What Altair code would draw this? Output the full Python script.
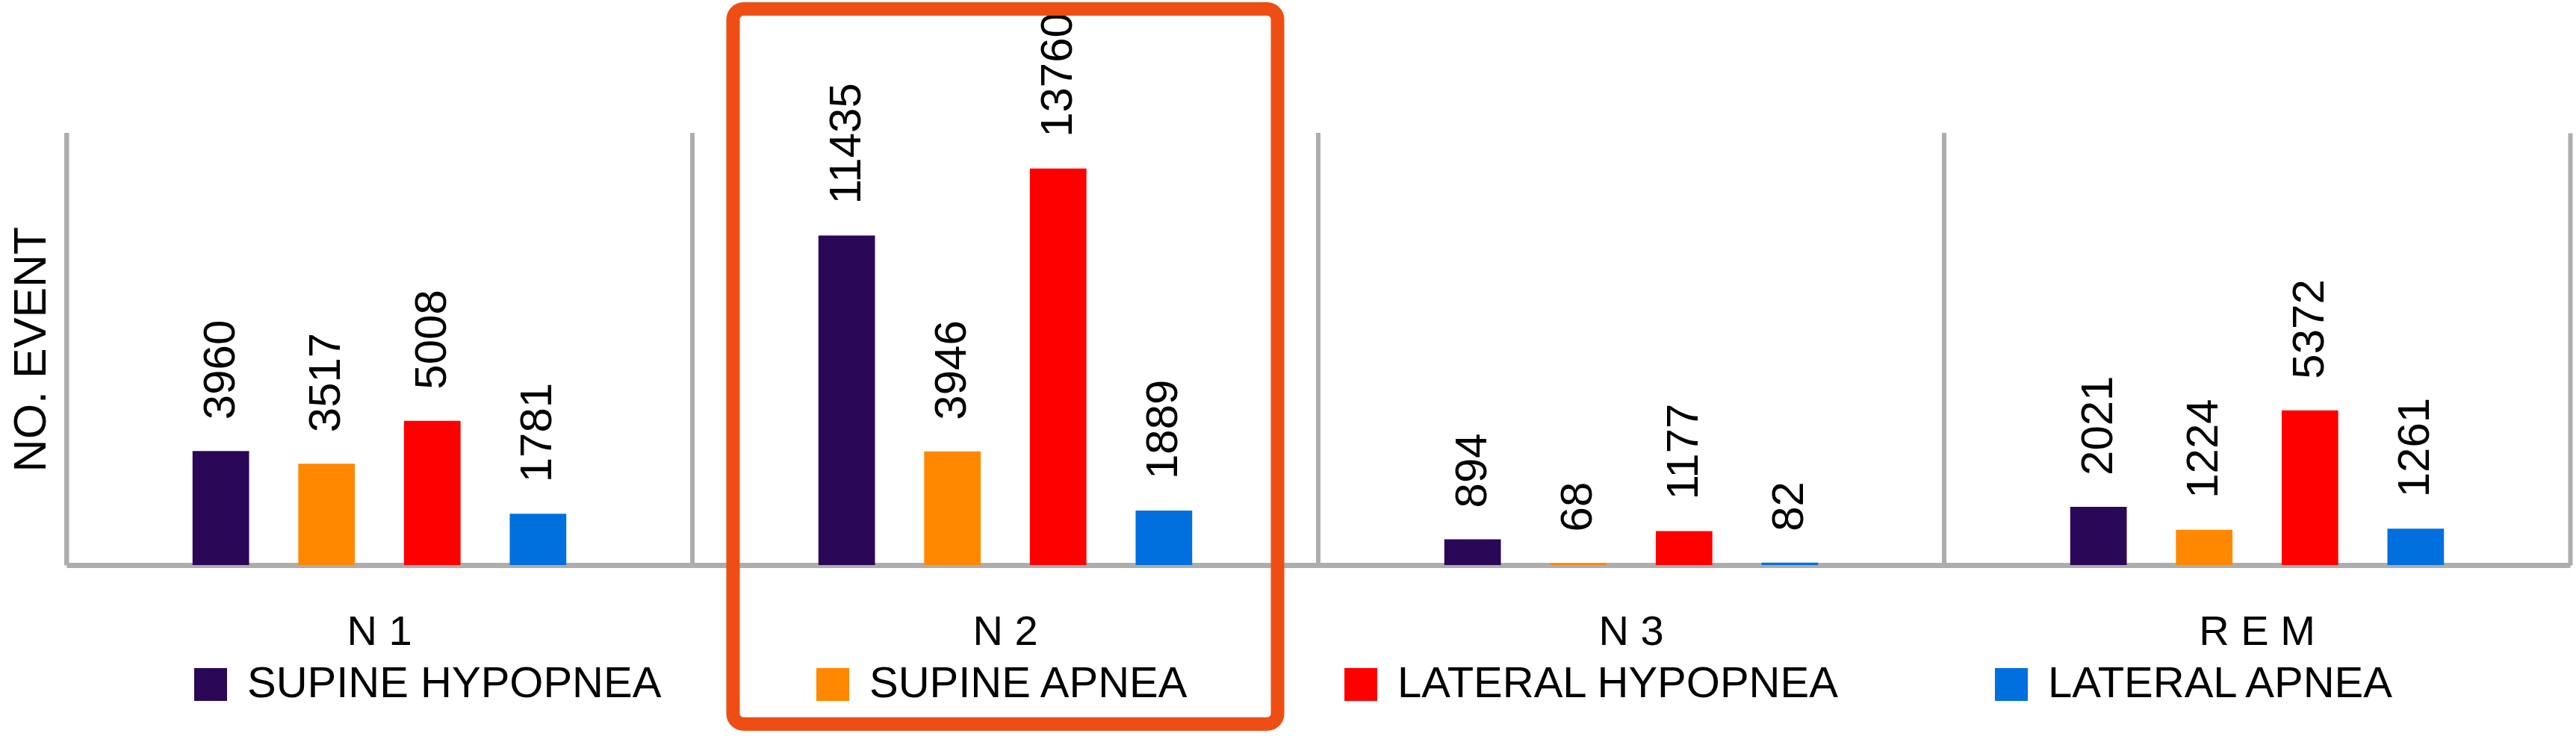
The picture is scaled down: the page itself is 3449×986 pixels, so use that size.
import altair as alt
import pandas as pd

# ---- data ----
stages = ["N 1", "N 2", "N 3", "R E M"]
series = ["SUPINE HYPOPNEA", "SUPINE APNEA", "LATERAL HYPOPNEA", "LATERAL APNEA"]
supine_hypopnea = [3960, 11435, 894, 2021]
supine_apnea = [3517, 3946, 68, 1224]
lateral_hypopnea = [5008, 13760, 1177, 5372]
lateral_apnea = [1781, 1889, 82, 1261]
highlighted = ["N 2"]

colors = ["#2B0757", "#FF8800", "#FF0000", "#0070DF"]
GRAY = "#ADADAD"
BOX = "#EE4E13"
FONT = "Liberation Sans, Arial, sans-serif"

values_by_series = [supine_hypopnea, supine_apnea, lateral_hypopnea, lateral_apnea]
rows = []
for s, vals in zip(series, values_by_series):
    for st, v in zip(stages, vals):
        rows.append({"stage": st, "series": s, "value": v})
df = pd.DataFrame(rows)
stage_df = pd.DataFrame({"stage": stages})
hl_df = pd.DataFrame({"stage": highlighted})

W, H = 3352, 579

x_axis = alt.Axis(title=None, labelAngle=0, labelFont=FONT, labelFontSize=56,
                  labelColor="black", labelPadding=62, ticks=False, tickSize=0,
                  domainColor=GRAY, domainWidth=7, grid=False)
x_scale = alt.Scale(domain=stages, paddingInner=0, paddingOuter=0)


def xenc(**kw):
    return alt.X("stage:N", sort=stages, scale=x_scale, axis=x_axis, **kw)


# bars sit in the middle of each category band (group spans ~98..740 of 838 px)
xoff = alt.XOffset("series:N", sort=series,
                   scale=alt.Scale(domain=series, range=[98, 740],
                                   paddingInner=0.465, paddingOuter=0.5))
y_scale = alt.Scale(domain=[0, 15000], nice=False, zero=True)

bars = alt.Chart(df).mark_bar().encode(
    x=xenc(),
    xOffset=xoff,
    y=alt.Y("value:Q", scale=y_scale,
            axis=alt.Axis(title="NO. EVENT", labels=False, ticks=False, grid=False,
                          domainColor=GRAY, domainWidth=6, titleFont=FONT,
                          titleFontSize=61, titleFontWeight="normal",
                          titleColor="black", titlePadding=16)),
    color=alt.Color("series:N", sort=series,
                    scale=alt.Scale(domain=series, range=colors),
                    legend=alt.Legend(title=None, orient="none", legendX=164, legendY=710,
                                      direction="horizontal", columns=4,
                                      symbolType="square", symbolSize=1936,
                                      symbolStrokeWidth=0, labelFont=FONT,
                                      labelFontSize=58, labelColor="black",
                                      labelOffset=20, columnPadding=200,
                                      labelLimit=2000)),
)

labels = alt.Chart(df).mark_text(angle=270, align="left", baseline="middle", dx=42,
                                 font=FONT, fontSize=60, color="black").encode(
    x=xenc(),
    xOffset=xoff,
    y=alt.Y("value:Q", scale=y_scale,
            axis=alt.Axis(orient="right", title=None, labels=False, ticks=False,
                          grid=False, domainColor=GRAY, domainWidth=6)),
    text=alt.Text("value:Q", format="d"),
)

separators = alt.Chart(stage_df).mark_rule(color=GRAY, strokeWidth=6).encode(
    x=xenc(bandPosition=0),
)

box = alt.Chart(hl_df).mark_bar(
    fill="transparent", stroke=BOX, strokeWidth=18, cornerRadius=14,
    width=alt.RelativeBandSize(0.87), clip=False,
).encode(
    x=xenc(),
    y=alt.value(-166),
    y2=alt.value(792),
)

chart = alt.layer(separators, bars, labels, box).resolve_axis(y="independent").properties(
    width=W, height=H,
    padding={"left": 89, "top": 178, "right": 8, "bottom": 229},
    autosize=alt.AutoSizeParams(type="none"),
    background="white",
).configure_view(stroke=None)

chart.save("out.html", embed_options={"renderer": "svg", "actions": False})
